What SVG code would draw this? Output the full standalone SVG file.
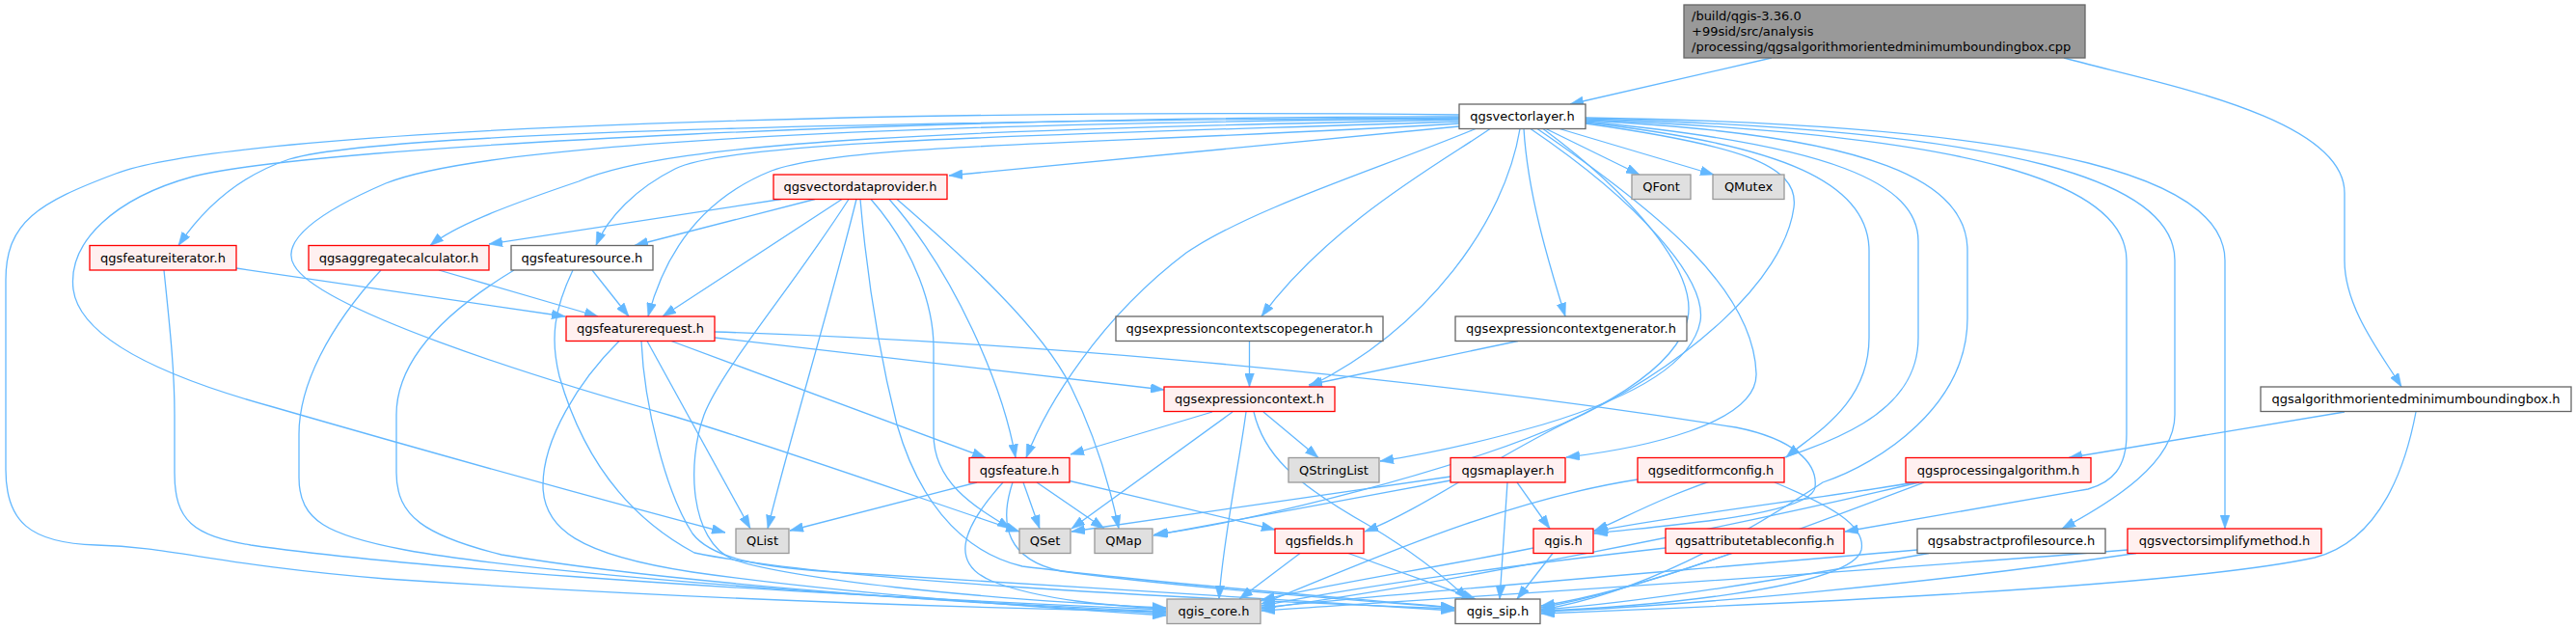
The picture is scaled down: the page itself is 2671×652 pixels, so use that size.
<svg xmlns="http://www.w3.org/2000/svg" width="2671" height="652" viewBox="0 0 2671 652">
<defs>
<marker id="a" markerWidth="14" markerHeight="10" refX="13.3" refY="4.65" orient="auto" markerUnits="userSpaceOnUse" viewBox="0 0 13.3 9.3"><path d="M0,0L13.3,4.65L0,9.3z" fill="#63b8ff" stroke="#63b8ff" stroke-width="0.5"/></marker>
</defs>
<style>
text{font-family:"DejaVu Sans","Liberation Sans",sans-serif;font-size:13px;fill:#000;text-anchor:middle}
.r rect{fill:#fff0f0;stroke:#ff0000;stroke-width:1.3}
.g rect{fill:#e0e0e0;stroke:#999999;stroke-width:1.3}
.w rect{fill:#ffffff;stroke:#666666;stroke-width:1.3}
.root rect{fill:#999999;stroke:#666666;stroke-width:1.3}
.root text{text-anchor:start}
#edges path{fill:none;stroke:#63b8ff;stroke-width:1.3;marker-end:url(#a)}
</style>
<rect width="2671" height="652" fill="#ffffff"/>
<g id="edges">
<path d="M1837,60 L1628,108"/>
<path d="M2140,60 C2230,85 2431,120 2431,200 L2431,270 C2431,320 2470,368 2490,401"/>
<path d="M2431,427 L2145,474.5"/>
<path d="M2505,427 C2495,480 2470,560 2400,578 C2250,610 1800,628 1598,636"/>
<path d="M1985,500 C1900,515 1730,535 1653,551"/>
<path d="M1990,500 C1800,545 1500,605 1308,631"/>
<path d="M1995,500 C1850,555 1700,612 1598,630"/>
<path d="M1513,131 L984,182"/>
<path d="M1603,133.5 L1700,181"/>
<path d="M1617,133.5 L1777,181"/>
<path d="M1580,133.5 C1584,200 1605,270 1623,328"/>
<path d="M1545,133.5 C1500,165 1380,230 1308,328"/>
<path d="M1576,133.5 C1560,230 1480,340 1357,401"/>
<path d="M1530,133.5 C1430,175 1300,215 1230,262 C1140,330 1085,420 1064,474.5"/>
<path d="M1513,128 C1150,150 880,148 800,177 C730,205 690,260 672,328"/>
<path d="M1513,126 C1100,140 760,145 700,175 C660,195 630,225 618,254.5"/>
<path d="M1513,124 C1000,135 700,145 600,188 C520,215 470,235 446,254.5"/>
<path d="M1513,122 C1000,125 400,135 300,165 C240,185 205,225 185,254.5"/>
<path d="M1513,123 C900,128 500,150 400,190 C330,220 290,250 305,275 C330,320 550,390 700,432 C800,462 950,515 1057,551"/>
<path d="M1513,121 C1000,120 330,150 200,183 C120,205 70,250 76,300 C82,345 150,385 280,421 C450,470 650,525 752,552"/>
<path d="M1513,119 C1000,112 250,130 120,180 C40,210 6,230 6,290 L6,487 C6,540 30,563 100,565 C180,567 220,585 400,600 C700,620 1000,630 1209,634"/>
<path d="M1587,133.5 C1700,210 1770,290 1763,333 C1755,375 1700,410 1600,440 C1530,460 1470,472 1431,478"/>
<path d="M1594,133.5 C1720,220 1818,300 1821,387 C1823,440 1700,465 1624,474"/>
<path d="M1644,127 C1850,150 1938,190 1938,260 L1938,350 C1938,420 1880,450 1852,474"/>
<path d="M1644,126 C1900,150 1989,190 1989,250 L1989,350 C1989,430 1900,460 1800,490 C1720,515 1680,540 1653,550"/>
<path d="M1644,125 C1950,140 2040,190 2040,260 L2040,330 C2040,420 1950,480 1890,500 C1800,560 1700,615 1598,632"/>
<path d="M1644,124 C2050,140 2205,190 2205,270 L2205,450 C2205,485 2190,500 2165,507 L1913,551"/>
<path d="M1644,123 C2100,135 2255,190 2255,270 L2255,430 C2255,480 2190,520 2138,548"/>
<path d="M1644,122 C2150,130 2307,190 2307,270 L2307,548"/>
<path d="M1644,128 C1800,150 1866,170 1860,215 C1850,290 1750,380 1620,440 C1540,480 1470,530 1415,551"/>
<path d="M1600,133.5 C1690,200 1760,280 1750,330 C1740,380 1660,430 1540,470 C1420,510 1270,545 1197,554"/>
<path d="M810,206.5 L507,253"/>
<path d="M845,206.5 L658,254.5"/>
<path d="M873,206.5 L687,328"/>
<path d="M888,206.5 C860,320 820,450 796,548"/>
<path d="M880,206.5 C820,300 750,380 730,430 C712,480 715,560 760,580 C820,600 1000,620 1209,630"/>
<path d="M892,206.5 C900,300 915,380 930,440 C950,510 990,570 1060,587 C1200,605 1400,620 1508,630"/>
<path d="M903,206.5 C950,260 968,320 968,360 L968,450 C968,500 1010,525 1048,548"/>
<path d="M922,206.5 C990,283 1040,400 1053,474.5"/>
<path d="M930,206.5 C1000,267 1080,340 1110,400 C1135,450 1150,500 1160,548"/>
<path d="M245,278 L586,328"/>
<path d="M170,280 C175,330 181,380 181,430 L181,490 C181,540 200,555 260,565 C400,585 700,610 1209,632"/>
<path d="M455,280 L620,328"/>
<path d="M395,280 C340,340 310,400 310,450 L310,495 C310,540 340,555 420,570 C560,595 900,620 1209,634"/>
<path d="M614,280 L652,328"/>
<path d="M533,280 C450,330 411,380 411,430 L411,490 C411,535 440,555 520,575 C700,605 1000,625 1209,636"/>
<path d="M594,280 C575,320 570,350 580,390 C600,460 640,530 720,573 C850,600 1200,620 1508,631"/>
<path d="M696,353.5 L1022,474.5"/>
<path d="M741,350 L1207,404"/>
<path d="M671,353.5 L778,548"/>
<path d="M642,353.5 C600,395 563,455 563,503 C563,548 600,575 718,593 C850,612 1050,628 1209,638"/>
<path d="M665,353.5 C668,420 690,510 718,553 C740,582 800,590 900,595 C1100,608 1350,622 1508,633"/>
<path d="M741,344 C1000,352 1400,380 1800,443 C1860,455 1885,480 1882,505 C1878,535 1720,545 1653,553"/>
<path d="M1013,500 L819,550"/>
<path d="M1061,500 L1078,548"/>
<path d="M1075,500 L1145,548"/>
<path d="M1107,498 L1322,549"/>
<path d="M1040,500 C995,550 985,585 1030,603 C1080,622 1150,628 1209,631"/>
<path d="M1050,500 C1035,545 1045,580 1100,592 C1200,606 1400,622 1508,630"/>
<path d="M1295.5,353.5 L1295.5,401"/>
<path d="M1574,353.5 L1357,399"/>
<path d="M1257,427 L1110,471"/>
<path d="M1278,427 L1111,548"/>
<path d="M1310,427 L1367,474.5"/>
<path d="M1292,427 C1285,480 1268,560 1264,621"/>
<path d="M1300,427 C1310,470 1340,500 1420,545 C1470,575 1500,600 1522,621"/>
<path d="M1348,573.5 L1285,621"/>
<path d="M1398,573.5 L1530,621"/>
<path d="M1590,568 C1480,590 1380,605 1308,622"/>
<path d="M1610,573.5 L1573,621"/>
<path d="M1504,494 L1111,551"/>
<path d="M1504,498 L1196,555"/>
<path d="M1573,500 L1607,548"/>
<path d="M1563,500 L1555,621"/>
<path d="M1698,497 C1550,520 1400,590 1308,626"/>
<path d="M1840,500 C1900,525 1935,545 1930,570 C1920,610 1700,630 1598,633"/>
<path d="M1727,568 C1550,588 1400,610 1308,628"/>
<path d="M1795,573.5 C1720,600 1650,620 1598,628"/>
<path d="M1988,570 C1700,595 1450,615 1308,630"/>
<path d="M2000,573.5 C1850,600 1700,625 1598,632"/>
<path d="M2206,570 C1900,595 1500,620 1308,633"/>
<path d="M2215,573.5 C2000,605 1750,628 1598,634"/>
</g>
<g id="root" class="root"><rect x="1746" y="5" width="416" height="55"/><text x="1754" y="21">/build/qgis-3.36.0</text><text x="1754" y="37">+99sid/src/analysis</text><text x="1754" y="53">/processing/qgsalgorithmorientedminimumboundingbox.cpp</text></g>
<g id="n_vl" class="w"><rect x="1513" y="108" width="131" height="25.5"/><text x="1578.5" y="125.3">qgsvectorlayer.h</text></g>
<g id="n_vdp" class="r"><rect x="802" y="181" width="180" height="25.5"/><text x="892" y="198.3">qgsvectordataprovider.h</text></g>
<g id="n_qfont" class="g"><rect x="1692" y="181" width="61" height="25.5"/><text x="1722.5" y="198.3">QFont</text></g>
<g id="n_qmutex" class="g"><rect x="1776" y="181" width="74" height="25.5"/><text x="1813" y="198.3">QMutex</text></g>
<g id="n_fit" class="r"><rect x="93" y="254.5" width="152" height="25.5"/><text x="169" y="271.8">qgsfeatureiterator.h</text></g>
<g id="n_agg" class="r"><rect x="320" y="254.5" width="187" height="25.5"/><text x="413.5" y="271.8">qgsaggregatecalculator.h</text></g>
<g id="n_fs" class="w"><rect x="530" y="254.5" width="147" height="25.5"/><text x="603.5" y="271.8">qgsfeaturesource.h</text></g>
<g id="n_freq" class="r"><rect x="587" y="328" width="154" height="25.5"/><text x="664" y="345.3">qgsfeaturerequest.h</text></g>
<g id="n_ecsg" class="w"><rect x="1157" y="328" width="277" height="25.5"/><text x="1295.5" y="345.3">qgsexpressioncontextscopegenerator.h</text></g>
<g id="n_ecg" class="w"><rect x="1509" y="328" width="240" height="25.5"/><text x="1629" y="345.3">qgsexpressioncontextgenerator.h</text></g>
<g id="n_ec" class="r"><rect x="1207" y="401" width="177" height="25.5"/><text x="1295.5" y="418.3">qgsexpressioncontext.h</text></g>
<g id="n_bbh" class="w"><rect x="2344" y="401" width="322" height="25.5"/><text x="2505" y="418.3">qgsalgorithmorientedminimumboundingbox.h</text></g>
<g id="n_feat" class="r"><rect x="1005" y="474.5" width="104" height="25.5"/><text x="1057" y="491.8">qgsfeature.h</text></g>
<g id="n_qstringlist" class="g"><rect x="1336" y="474.5" width="94" height="25.5"/><text x="1383" y="491.8">QStringList</text></g>
<g id="n_ml" class="r"><rect x="1504" y="474.5" width="119" height="25.5"/><text x="1563.5" y="491.8">qgsmaplayer.h</text></g>
<g id="n_efc" class="r"><rect x="1698" y="474.5" width="152" height="25.5"/><text x="1774" y="491.8">qgseditformconfig.h</text></g>
<g id="n_pa" class="r"><rect x="1976" y="474.5" width="192" height="25.5"/><text x="2072" y="491.8">qgsprocessingalgorithm.h</text></g>
<g id="n_qlist" class="g"><rect x="763" y="548" width="55" height="25.5"/><text x="790.5" y="565.3">QList</text></g>
<g id="n_qset" class="g"><rect x="1057" y="548" width="53" height="25.5"/><text x="1083.5" y="565.3">QSet</text></g>
<g id="n_qmap" class="g"><rect x="1135" y="548" width="60" height="25.5"/><text x="1165" y="565.3">QMap</text></g>
<g id="n_fields" class="r"><rect x="1322" y="548" width="92" height="25.5"/><text x="1368" y="565.3">qgsfields.h</text></g>
<g id="n_qgis" class="r"><rect x="1590" y="548" width="62" height="25.5"/><text x="1621" y="565.3">qgis.h</text></g>
<g id="n_atc" class="r"><rect x="1727" y="548" width="185" height="25.5"/><text x="1819.5" y="565.3">qgsattributetableconfig.h</text></g>
<g id="n_aps" class="w"><rect x="1988" y="548" width="195" height="25.5"/><text x="2085.5" y="565.3">qgsabstractprofilesource.h</text></g>
<g id="n_vsm" class="r"><rect x="2206" y="548" width="201" height="25.5"/><text x="2306.5" y="565.3">qgsvectorsimplifymethod.h</text></g>
<g id="n_core" class="g"><rect x="1210" y="621" width="97" height="25.5"/><text x="1258.5" y="638.3">qgis_core.h</text></g>
<g id="n_sip" class="w"><rect x="1509" y="621" width="88" height="25.5"/><text x="1553" y="638.3">qgis_sip.h</text></g>
</svg>
